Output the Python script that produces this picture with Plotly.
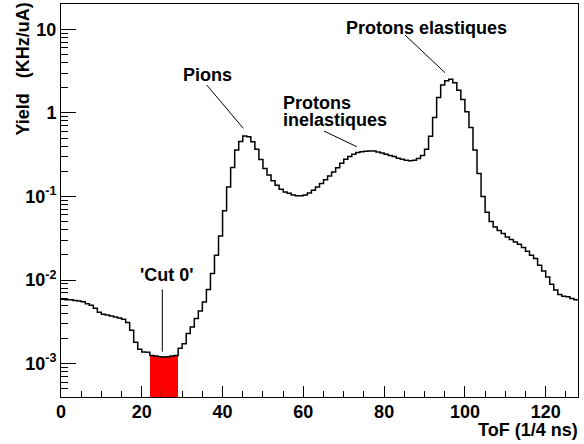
import math
import plotly.graph_objects as go

# ToF histogram: 128 bins of width 1 (units of 1/4 ns)
tof_bin_edges = list(range(0, 129))

# Yield per bin (KHz/uA)
yield_khz_ua = [
    0.0059, 0.0058, 0.0058, 0.0057, 0.0056, 0.0055, 0.0052, 0.0050, 0.0046, 0.0041,
    0.0039, 0.0038, 0.0037, 0.0036, 0.0035, 0.0034, 0.0031, 0.0025, 0.0018, 0.00148,
    0.00138, 0.00137, 0.00125, 0.00123, 0.00121, 0.00120, 0.00121, 0.00123, 0.00125, 0.00152,
    0.00173, 0.00229, 0.00274, 0.00346, 0.00427, 0.00547, 0.0077, 0.0120, 0.0198, 0.0337,
    0.0673, 0.130, 0.222, 0.359, 0.455, 0.530, 0.518, 0.451, 0.366, 0.277,
    0.216, 0.180, 0.154, 0.136, 0.122, 0.113, 0.109, 0.104, 0.102, 0.102,
    0.104, 0.110, 0.119, 0.130, 0.143, 0.158, 0.176, 0.196, 0.220, 0.250,
    0.278, 0.300, 0.320, 0.335, 0.343, 0.347, 0.350, 0.350, 0.340, 0.330,
    0.320, 0.310, 0.300, 0.287, 0.278, 0.271, 0.268, 0.271, 0.285, 0.310,
    0.366, 0.527, 0.883, 1.53, 2.15, 2.43, 2.52, 2.30, 1.87, 1.45,
    1.03, 0.67, 0.359, 0.188, 0.100, 0.0646, 0.0500, 0.0430, 0.0390, 0.0360,
    0.0328, 0.0305, 0.0286, 0.0268, 0.0245, 0.0221, 0.0198, 0.0181, 0.0150, 0.0128,
    0.0109, 0.0089, 0.0076, 0.0067, 0.0064, 0.0063, 0.0060, 0.0058,
]

# Bins selected by 'Cut 0' (first bin, last bin + 1)
cut0_bins = (22, 29)

x_major = [0, 20, 40, 60, 80, 100, 120]
x_tick_labels = ["0", "20", "40", "60", "80", "100", "120"]
y_major = [1e-3, 1e-2, 1e-1, 1, 10]
y_tick_labels = ["10<sup>-3</sup>", "10<sup>-2</sup>", "10<sup>-1</sup>", "1", "10"]

y_min, y_max = 3.98e-4, 20.1

FONT = "Liberation Sans"
FS = 18

x_minor = [v for v in range(5, 128, 5) if v % 20 != 0]
y_minor = [m * 10.0 ** e for e in range(-4, 2) for m in range(2, 10)
           if y_min * 1.05 < m * 10.0 ** e < y_max * 0.95]

fig = go.Figure()

# red fill under the 'Cut 0' bins
lo, hi = cut0_bins
fig.add_trace(go.Bar(
    x=[k + 0.5 for k in range(lo, hi)],
    y=yield_khz_ua[lo:hi],
    width=1.0,
    marker=dict(color="#ff0000", line=dict(width=0)),
    hoverinfo="skip",
))

# histogram outline
fig.add_trace(go.Scatter(
    x=tof_bin_edges,
    y=yield_khz_ua + [yield_khz_ua[-1]],
    mode="lines",
    line=dict(shape="hv", color="black", width=1.5),
    hoverinfo="skip",
))

axis_common = dict(
    showline=True, linecolor="black", linewidth=1, mirror=True,
    ticks="inside", tickcolor="black", tickwidth=1,
    showgrid=False, zeroline=False,
    tickfont=dict(family=FONT, size=FS, color="black", weight="bold"),
)

fig.update_xaxes(
    range=[0, 128], tickmode="array", tickvals=x_major, ticktext=x_tick_labels,
    ticklen=11, ticklabelstandoff=-2,
    minor=dict(ticks="inside", ticklen=6, tickvals=x_minor, tickcolor="black", showgrid=False),
    **axis_common,
)
fig.update_yaxes(
    type="log", range=[math.log10(y_min), math.log10(y_max)],
    tickmode="array", tickvals=y_major, ticktext=y_tick_labels,
    ticklen=15,
    minor=dict(ticks="inside", ticklen=7, tickvals=y_minor, tickcolor="black", showgrid=False),
    **axis_common,
)

# plot area in pixels
L, R, T, B = 61, 6, 4, 47
W, H = 584, 444
PW, PH = W - L - R, H - T - B


def px(xp):
    return (xp - L) / PW


def py(yp):
    return (H - B - yp) / PH


tfont = dict(family=FONT, size=FS, color="black", weight="bold")


def label(text, x, y, xanchor="center"):
    fig.add_annotation(text=text, x=px(x), y=py(y), xref="paper", yref="paper",
                       xanchor=xanchor, yanchor="middle", showarrow=False,
                       borderpad=0, font=tfont)


def pointer(x0, y0, x1, y1):
    fig.add_shape(type="line", xref="paper", yref="paper",
                  x0=px(x0), y0=py(y0), x1=px(x1), y1=py(y1),
                  line=dict(color="black", width=1))


label("Pions", 207.5, 74.5)
pointer(206.7, 85, 243.3, 128.3)

label("Protons elastiques", 426, 27.5)
pointer(405, 35, 445, 72.7)

label("Protons", 282, 103.5, xanchor="left")
label("inelastiques", 282, 119.5, xanchor="left")
pointer(324, 131, 356.7, 146.7)

label("'Cut 0'", 166.5, 274.5)
pointer(162.3, 289.3, 162.3, 351.7)

# axis titles
fig.add_annotation(text="ToF (1/4 ns)", x=px(579), y=py(430), xref="paper", yref="paper",
                   xanchor="right", yanchor="middle", showarrow=False,
                   borderpad=0, font=tfont)
fig.add_annotation(text="Yield\u00a0\u00a0\u00a0(KHz/uA)", x=px(22), y=py(2),
                   xref="paper", yref="paper", xanchor="center", yanchor="top",
                   textangle=-90, showarrow=False, borderpad=0, font=tfont)

fig.update_layout(
    width=W, height=H,
    margin=dict(l=L, r=R, t=T, b=B, pad=0),
    paper_bgcolor="white", plot_bgcolor="white",
    showlegend=False, bargap=0,
)

fig.write_html("out.html")
